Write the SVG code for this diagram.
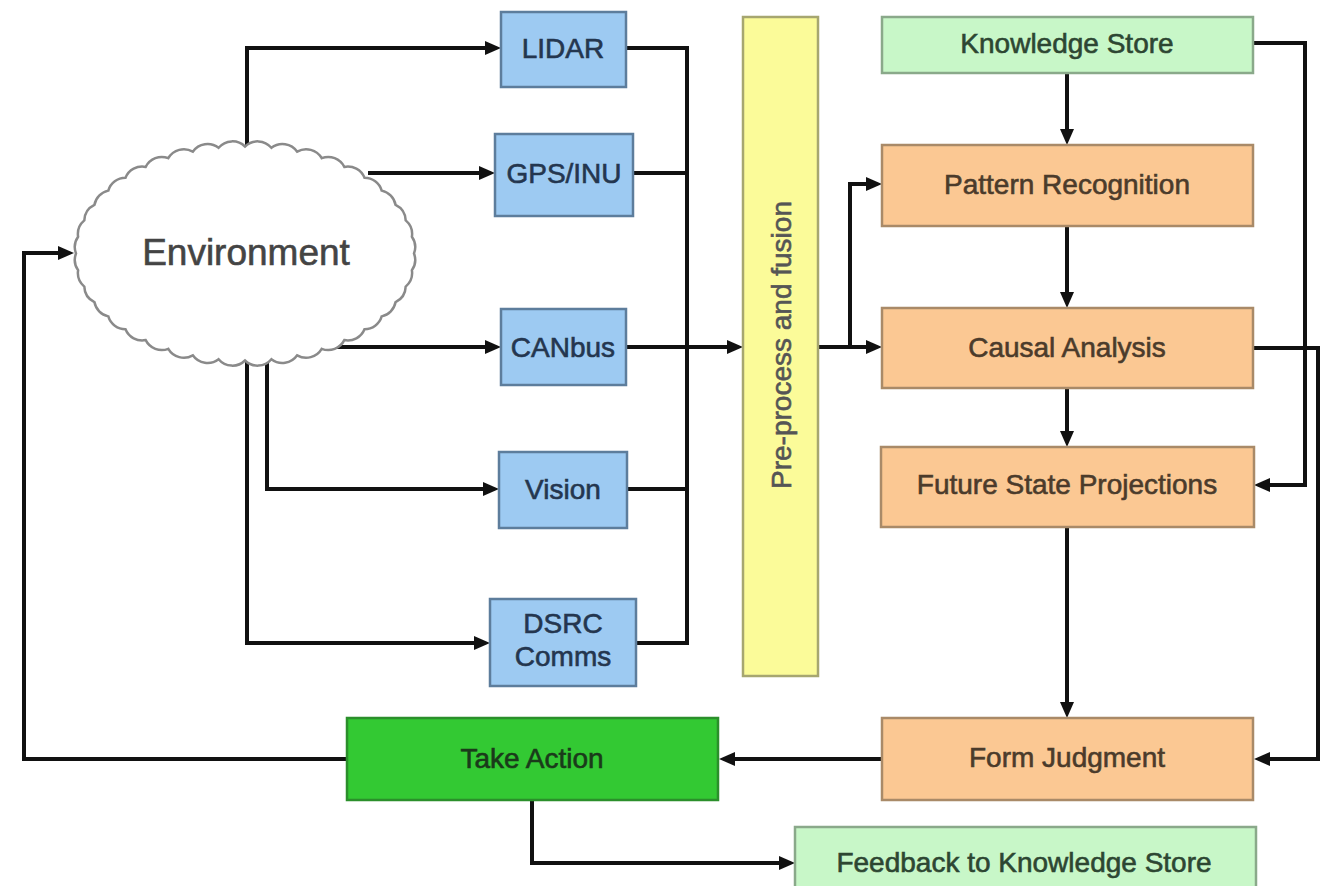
<svg xmlns="http://www.w3.org/2000/svg" width="1321" height="886" viewBox="0 0 1321 886">
<defs>
<style>
.ln{fill:none;stroke:#111;stroke-width:4;stroke-linejoin:miter}
.t{font-family:"Liberation Sans",Arial,sans-serif;font-size:28px;text-anchor:middle;stroke-width:0.6}
.blue rect{fill:#9dcaf2;stroke:#5d7d9c;stroke-width:2.5}
.blue text{fill:#24364f;stroke:#24364f}
.orange rect{fill:#fbc893;stroke:#a98a68;stroke-width:2.5}
.orange text{fill:#4b3b2b;stroke:#4b3b2b}
.lgreen rect{fill:#c8f7c8;stroke:#8aa98a;stroke-width:2.5}
.lgreen text{fill:#2d4632;stroke:#2d4632}
</style>
<marker id="ah" viewBox="0 0 16 14" refX="0" refY="7" markerWidth="16" markerHeight="14" markerUnits="userSpaceOnUse" orient="auto">
<path d="M0,0 L16,7 L0,14 z" fill="#111"/>
</marker>
</defs>
<rect width="1321" height="886" fill="#fff"/>
<g id="connectors">
<path class="ln" d="M247,155 V48 H485" marker-end="url(#ah)"/>
<path class="ln" d="M368,173 H479" marker-end="url(#ah)"/>
<path class="ln" d="M335,347 H485" marker-end="url(#ah)"/>
<path class="ln" d="M267,352 V489 H483" marker-end="url(#ah)"/>
<path class="ln" d="M247,352 V643 H474" marker-end="url(#ah)"/>
<path class="ln" d="M626,48 H687 V643 H636"/>
<path class="ln" d="M633,173 H687"/>
<path class="ln" d="M627,489 H687"/>
<path class="ln" d="M626,347 H727" marker-end="url(#ah)"/>
<path class="ln" d="M818,347 H866" marker-end="url(#ah)"/>
<path class="ln" d="M850,347 V184 H866" marker-end="url(#ah)"/>
<path class="ln" d="M1067,73 V129" marker-end="url(#ah)"/>
<path class="ln" d="M1067,226 V292" marker-end="url(#ah)"/>
<path class="ln" d="M1067,388 V431" marker-end="url(#ah)"/>
<path class="ln" d="M1067,527 V702" marker-end="url(#ah)"/>
<path class="ln" d="M1253,43 H1305 V485 H1270" marker-end="url(#ah)"/>
<path class="ln" d="M1253,348 H1318 V759 H1270" marker-end="url(#ah)"/>
<path class="ln" d="M882,759 H735" marker-end="url(#ah)"/>
<path class="ln" d="M347,759 H24 V253 H58" marker-end="url(#ah)"/>
<path class="ln" d="M532,800 V863 H779" marker-end="url(#ah)"/>
</g>
<g id="environment">
<path d="M414,253.5 A18,18 0 0 1 411.9,270.2 A18,18 0 0 1 405.7,286.6 A18,18 0 0 1 395.6,302.1 A18,18 0 0 1 381.7,316.4 A18,18 0 0 1 364.5,329.2 A18,18 0 0 1 344.3,340.1 A18,18 0 0 1 321.7,348.8 A18,18 0 0 1 297.2,355.3 A18,18 0 0 1 271.4,359.2 A18,18 0 0 1 245,360.5 A18,18 0 0 1 218.6,359.2 A18,18 0 0 1 192.8,355.3 A18,18 0 0 1 168.3,348.8 A18,18 0 0 1 145.7,340.1 A18,18 0 0 1 125.5,329.2 A18,18 0 0 1 108.3,316.4 A18,18 0 0 1 94.4,302.1 A18,18 0 0 1 84.3,286.6 A18,18 0 0 1 78.1,270.2 A18,18 0 0 1 76,253.5 A18,18 0 0 1 78.1,236.8 A18,18 0 0 1 84.3,220.4 A18,18 0 0 1 94.4,204.9 A18,18 0 0 1 108.3,190.6 A18,18 0 0 1 125.5,177.8 A18,18 0 0 1 145.7,166.9 A18,18 0 0 1 168.3,158.2 A18,18 0 0 1 192.8,151.7 A18,18 0 0 1 218.6,147.8 A18,18 0 0 1 245,146.5 A18,18 0 0 1 271.4,147.8 A18,18 0 0 1 297.2,151.7 A18,18 0 0 1 321.7,158.2 A18,18 0 0 1 344.3,166.9 A18,18 0 0 1 364.5,177.8 A18,18 0 0 1 381.7,190.6 A18,18 0 0 1 395.6,204.9 A18,18 0 0 1 405.7,220.4 A18,18 0 0 1 411.9,236.8 A18,18 0 0 1 414,253.5 Z" fill="#fff" stroke="#8a8a8a" stroke-width="2.5"/>
<text class="t" x="246" y="265" style="font-size:37px" fill="#444" stroke="#444">Environment</text>
</g>
<g id="lidar" class="blue"><rect x="501" y="12" width="125" height="75"/><text class="t" x="563" y="58">LIDAR</text></g>
<g id="gps" class="blue"><rect x="495" y="134" width="138" height="82"/><text class="t" x="564" y="183">GPS/INU</text></g>
<g id="canbus" class="blue"><rect x="501" y="309" width="125" height="76"/><text class="t" x="563" y="357">CANbus</text></g>
<g id="vision" class="blue"><rect x="499" y="452" width="128" height="76"/><text class="t" x="563" y="499">Vision</text></g>
<g id="dsrc" class="blue"><rect x="490" y="599" width="146" height="87"/><text class="t" x="563" y="633">DSRC</text><text class="t" x="563" y="666">Comms</text></g>
<g id="preprocess"><rect x="743" y="17" width="75" height="659" fill="#fbfb99" stroke="#a6a670" stroke-width="2.5"/><text class="t" x="0" y="10" fill="#555" stroke="#555" transform="translate(781,345) rotate(-90)">Pre-process and fusion</text></g>
<g id="knowledge" class="lgreen"><rect x="882" y="17" width="371" height="56"/><text class="t" x="1067" y="53">Knowledge Store</text></g>
<g id="pattern" class="orange"><rect x="882" y="145" width="371" height="81"/><text class="t" x="1067" y="194">Pattern Recognition</text></g>
<g id="causal" class="orange"><rect x="882" y="308" width="371" height="80"/><text class="t" x="1067" y="357">Causal Analysis</text></g>
<g id="future" class="orange"><rect x="881" y="447" width="373" height="80"/><text class="t" x="1067" y="494">Future State Projections</text></g>
<g id="judgment" class="orange"><rect x="882" y="718" width="371" height="82"/><text class="t" x="1067" y="767">Form Judgment</text></g>
<g id="action"><rect x="347" y="718" width="371" height="82" fill="#33c933" stroke="#2b8f2b" stroke-width="2.5"/><text class="t" x="532" y="768" fill="#1a3a1a" stroke="#1a3a1a">Take Action</text></g>
<g id="feedback" class="lgreen"><rect x="795" y="827" width="461" height="80"/><text class="t" x="1024" y="872">Feedback to Knowledge Store</text></g>
</svg>
